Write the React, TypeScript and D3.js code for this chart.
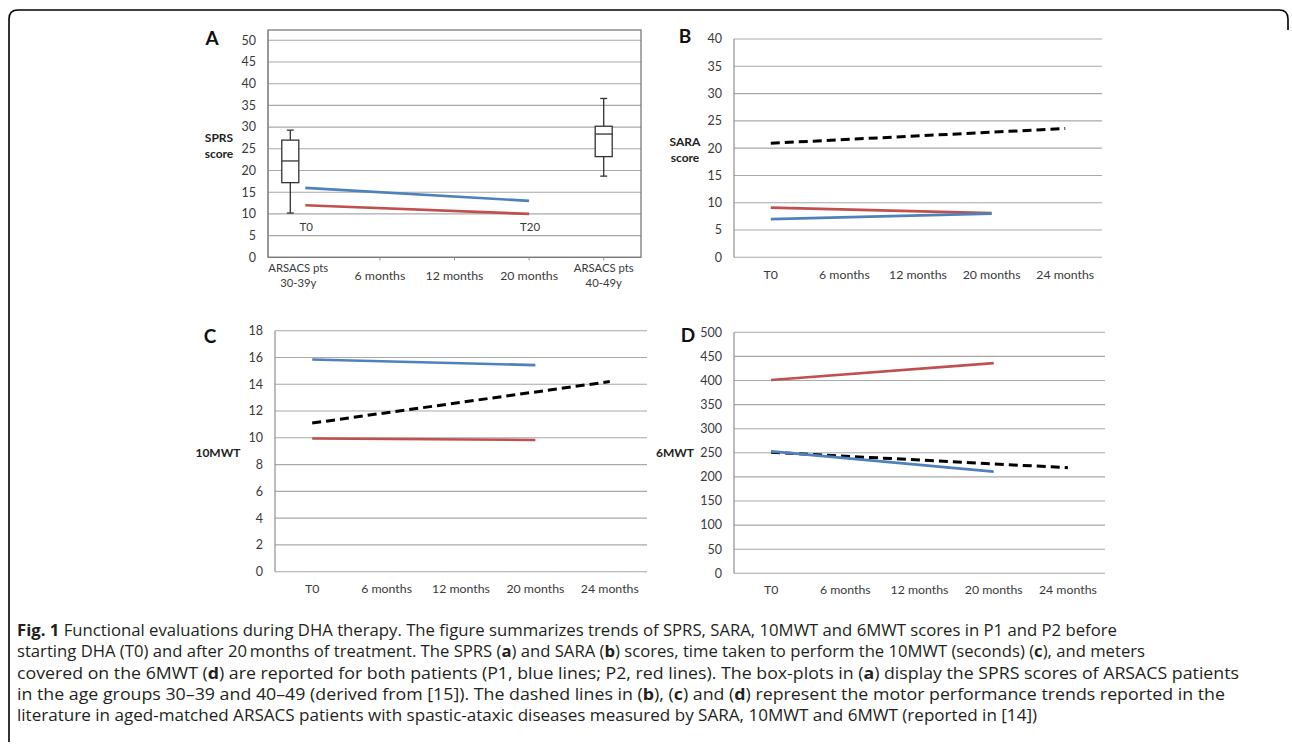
import React from "react";
import * as d3 from "d3";

// ---------- DATA ----------
const catsA = ["ARSACS pts\n30-39y", "6 months", "12 months", "20 months", "ARSACS pts\n40-49y"];
const catsT = ["T0", "6 months", "12 months", "20 months", "24 months"];

const yTicksA = [0, 5, 10, 15, 20, 25, 30, 35, 40, 45, 50];
const yTicksB = [0, 5, 10, 15, 20, 25, 30, 35, 40];
const yTicksC = [0, 2, 4, 6, 8, 10, 12, 14, 16, 18];
const yTicksD = [0, 50, 100, 150, 200, 250, 300, 350, 400, 450, 500];

// Panel A (SPRS)
const p1A = [{ c: catsA[0], v: 16 }, { c: catsA[3], v: 13 }];
const p2A = [{ c: catsA[0], v: 12 }, { c: catsA[3], v: 10 }];
const boxesA = [
  { c: catsA[0], min: 10.2, q1: 17.2, med: 22.2, q3: 27.0, max: 29.3 },
  { c: catsA[4], min: 18.7, q1: 23.2, med: 28.4, q3: 30.2, max: 36.6 },
];
const annotA = [{ c: catsA[0], t: "T0" }, { c: catsA[3], t: "T20" }];

// Panel B (SARA)
const p1B = [{ c: catsT[0], v: 7.0 }, { c: catsT[3], v: 8.0 }];
const p2B = [{ c: catsT[0], v: 9.1 }, { c: catsT[3], v: 8.1 }];
const litB = [{ c: catsT[0], v: 20.9 }, { c: catsT[4], v: 23.6 }];

// Panel C (10MWT)
const p1C = [{ c: catsT[0], v: 15.85 }, { c: catsT[3], v: 15.43 }];
const p2C = [{ c: catsT[0], v: 9.95 }, { c: catsT[3], v: 9.84 }];
const litC = [{ c: catsT[0], v: 11.1 }, { c: catsT[4], v: 14.2 }];

// Panel D (6MWT)
const p1D = [{ c: catsT[0], v: 253 }, { c: catsT[3], v: 211 }];
const p2D = [{ c: catsT[0], v: 401 }, { c: catsT[3], v: 436 }];
const litD = [{ c: catsT[0], v: 251 }, { c: catsT[4], v: 219 }];

const captionLines = [
  [{ t: "Fig. 1", b: true }, { t: " Functional evaluations during DHA therapy. The figure summarizes trends of SPRS, SARA, 10MWT and 6MWT scores in P1 and P2 before" }],
  [{ t: "starting DHA (T0) and after 20\u2009months of treatment. The SPRS (" }, { t: "a", b: true }, { t: ") and SARA (" }, { t: "b", b: true }, { t: ") scores, time taken to perform the 10MWT (seconds) (" }, { t: "c", b: true }, { t: "), and meters" }],
  [{ t: "covered on the 6MWT (" }, { t: "d", b: true }, { t: ") are reported for both patients (P1, blue lines; P2, red lines). The box-plots in (" }, { t: "a", b: true }, { t: ") display the SPRS scores of ARSACS patients" }],
  [{ t: "in the age groups 30\u201339 and 40\u201349 (derived from [15]). The dashed lines in (" }, { t: "b", b: true }, { t: "), (" }, { t: "c", b: true }, { t: ") and (" }, { t: "d", b: true }, { t: ") represent the motor performance trends reported in the" }],
  [{ t: "literature in aged-matched ARSACS patients with spastic-ataxic diseases measured by SARA, 10MWT and 6MWT (reported in [14])" }],
];
// measured text widths of each caption line (px)
const captionWidths = [1100, 1128, 1222, 1208, 1020];

// ---------- STYLE ----------
const FONT = "Lato, Carlito, 'Open Sans', sans-serif";
const CAPFONT = "'Open Sans', 'Noto Sans', sans-serif";
const BLUE = "#4F81BD";
const RED = "#C0504D";
const GRID = "#a9a9a9";
const TXT = "#3a3a3a";

type Pt = { c: string; v: number };
type Box = { c: string; min: number; q1: number; med: number; q3: number; max: number };

function Panel(props: {
  left: number; right: number; top: number; bottom: number; yMax: number;
  yTicks: number[]; cats: string[]; catLabelY: number; border?: boolean; borderTop?: number;
  p1: Pt[]; p2: Pt[]; lit?: Pt[]; boxes?: Box[]; boxDx?: number[]; labelDx?: number[];
  letter: string; letterX: number; letterY: number; yLabel: string[]; yLabelX: number; yLabelY: number;
  annot?: { c: string; t: string }[]; annotV?: number; gridRight?: number;
}) {
  const x = d3.scalePoint<string>().domain(props.cats).range([props.left, props.right]).padding(0.5);
  const y = d3.scaleLinear().domain([0, props.yMax]).range([props.bottom, props.top]);
  const line = d3.line<Pt>().x((d) => x(d.c)!).y((d) => y(d.v));
  const gridRight = props.gridRight ?? props.right;
  return (
    <g>
      {props.yTicks.map((t) => (
        <line key={"g" + t} x1={props.left} x2={gridRight} y1={y(t)} y2={y(t)} stroke={GRID} strokeWidth={1.1} />
      ))}
      {props.border && (
        <rect x={props.left} y={props.borderTop} width={props.right - props.left}
          height={props.bottom - (props.borderTop as number)} fill="none" stroke="#6e6e6e" strokeWidth={1.2} />
      )}
      <line x1={props.left} x2={props.left} y1={props.border ? props.borderTop : y(props.yMax)} y2={props.bottom} stroke="#8f8f8f" strokeWidth={1.2} />
      {props.border && props.cats.slice(1).map((c) => (
        <line key={"tk" + c} x1={x(c)} x2={x(c)} y1={props.bottom} y2={props.bottom + 3} stroke="#8f8f8f" />
      ))}
      {props.yTicks.map((t) => (
        <text key={"t" + t} x={props.left - 12} y={y(t)} dy="0.35em" textAnchor="end" fontSize={12.5} fill={TXT} fontFamily={FONT}>{t}</text>
      ))}
      {props.cats.map((c, i) => {
        const parts = c.split("\n");
        const dx = props.labelDx ? props.labelDx[i] : 0;
        return (
          <text key={"c" + c} x={x(c)! + dx} y={parts.length > 1 ? props.catLabelY - 7.5 : props.catLabelY} textAnchor="middle" fontSize={12.3} fill={TXT} fontFamily={FONT}>
            {parts.map((p, j) => (
              <tspan key={j} x={x(c)! + dx} dy={j === 0 ? "0.35em" : 15} fontSize={parts.length > 1 ? 11.3 : 12.3}>{p}</tspan>
            ))}
          </text>
        );
      })}
      {props.boxes && props.boxes.map((b, i) => {
        const cx = x(b.c)! + (props.boxDx ? props.boxDx[i] : 0);
        const w = 17, cw = 7;
        return (
          <g key={"b" + i} stroke="#333" strokeWidth={1.3} fill="none">
            <line x1={cx} x2={cx} y1={y(b.max)} y2={y(b.q3)} />
            <line x1={cx} x2={cx} y1={y(b.q1)} y2={y(b.min)} />
            <line x1={cx - cw / 2} x2={cx + cw / 2} y1={y(b.max)} y2={y(b.max)} />
            <line x1={cx - cw / 2} x2={cx + cw / 2} y1={y(b.min)} y2={y(b.min)} />
            <rect x={cx - w / 2} y={y(b.q3)} width={w} height={y(b.q1) - y(b.q3)} fill="#fff" />
            <line x1={cx - w / 2} x2={cx + w / 2} y1={y(b.med)} y2={y(b.med)} />
          </g>
        );
      })}
      {props.lit && <path d={line(props.lit)!} fill="none" stroke="#000" strokeWidth={3} strokeDasharray="9 5" />}
      <path d={line(props.p2)!} fill="none" stroke={RED} strokeWidth={2.6} />
      <path d={line(props.p1)!} fill="none" stroke={BLUE} strokeWidth={2.6} />
      {props.annot && props.annot.map((a) => (
        <text key={"a" + a.t} x={x(a.c)! + 1} y={y(props.annotV as number)} dy="0.35em" textAnchor="middle" fontSize={11.5} fill={TXT} fontFamily={FONT}>{a.t}</text>
      ))}
      <text x={props.letterX} y={props.letterY} textAnchor="middle" fontSize={19} fontWeight="bold" fill="#111" fontFamily={FONT}>{props.letter}</text>
      <text x={props.yLabelX} y={props.yLabelY} textAnchor="middle" fontSize={12} fontWeight="bold" fill="#222" fontFamily={FONT}>
        {props.yLabel.map((l, j) => (
          <tspan key={j} x={props.yLabelX} dy={j === 0 ? "0.35em" : 16}>{l}</tspan>
        ))}
      </text>
    </g>
  );
}

export default function App() {
  return (
    <svg width={1292} height={744} style={{ position: "absolute", left: 0, top: 0, display: "block", background: "#fff" }}>
      <rect x={0} y={0} width={1292} height={744} fill="#fff" />
      {/* frame */}
      <path d="M9,742 V19 Q9,10 18,10 H1279 Q1288,10 1288,19 V30" fill="none" stroke="#000" strokeWidth={1.6} />

      <Panel left={268} right={641} top={40.3} bottom={257.3} yMax={50} yTicks={yTicksA} cats={catsA}
        catLabelY={276} border borderTop={30} p1={p1A} p2={p2A} boxes={boxesA} boxDx={[-15, 0]} labelDx={[-7, 0, 0, 0, 0]}
        letter="A" letterX={212} letterY={45} yLabel={["SPRS", "score"]} yLabelX={219} yLabelY={138}
        annot={annotA} annotV={7.1} />

      <Panel left={734} right={1102} top={39} bottom={257.3} yMax={40} yTicks={yTicksB} cats={catsT}
        catLabelY={275} p1={p1B} p2={p2B} lit={litB}
        letter="B" letterX={685} letterY={43} yLabel={["SARA", "score"]} yLabelX={685} yLabelY={142} />

      <Panel left={275} right={647} top={330.7} bottom={571.7} yMax={18} yTicks={yTicksC} cats={catsT}
        catLabelY={589} p1={p1C} p2={p2C} lit={litC}
        letter="C" letterX={210} letterY={343} yLabel={["10MWT"]} yLabelX={218} yLabelY={453} />

      <Panel left={734} right={1105} top={332.3} bottom={573.3} yMax={500} yTicks={yTicksD} cats={catsT}
        catLabelY={590} p1={p1D} p2={p2D} lit={litD}
        letter="D" letterX={688} letterY={342} yLabel={["6MWT"]} yLabelX={675} yLabelY={453} />

      {captionLines.map((segs, i) => (
        <text key={i} x={17} y={636 + i * 21.3} fontSize={16.3} fill="#231f20" fontFamily={CAPFONT}
          textLength={captionWidths[i]} lengthAdjust="spacingAndGlyphs">
          {segs.map((s, j) => (
            <tspan key={j} fontWeight={s.b ? "bold" : "normal"}>{s.t}</tspan>
          ))}
        </text>
      ))}
    </svg>
  );
}
